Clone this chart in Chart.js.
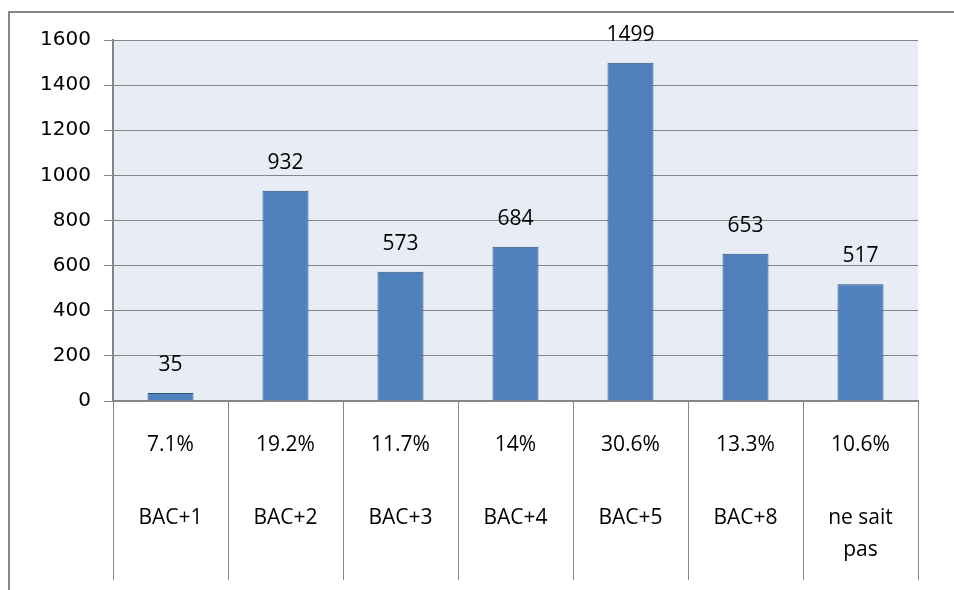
<!DOCTYPE html>
<html lang="fr">
<head>
    <meta charset="UTF-8">
    <title>BAC+ répartition</title>
    <script src="https://cdn.jsdelivr.net/npm/chart.js"></script>
    <style>
        html, body { margin: 0; padding: 0; background: #fff; }
        #wrap { width: 954px; height: 590px; position: relative; }
    </style>
</head>
<body>
<div id="wrap"><canvas id="chart" width="954" height="590"></canvas></div>
<script>
    // données
    const categories = ['BAC+1', 'BAC+2', 'BAC+3', 'BAC+4', 'BAC+5', 'BAC+8', ['ne sait', 'pas']];
    const effectifs = [35, 932, 573, 684, 1499, 653, 517];
    const pourcentages = ['7.1%', '19.2%', '11.7%', '14%', '30.6%', '13.3%', '10.6%'];
    const yTicks = [0, 200, 400, 600, 800, 1000, 1200, 1400, 1600];

    const GRIS = '#868686';
    const labelFont = '21px "Open Sans", Lato, sans-serif';
    Chart.defaults.font.family = '"DejaVu Sans", sans-serif';

    // cadre, fond de la zone de tracé, étiquettes et tableau sous l'axe
    const decor = {
        id: 'decor',
        beforeDraw(chart) {
            const { ctx, chartArea: a } = chart;
            ctx.save();
            ctx.strokeStyle = GRIS;
            ctx.lineWidth = 2;
            ctx.beginPath();
            ctx.moveTo(954, 12);
            ctx.lineTo(9, 12);
            ctx.lineTo(9, 590);
            ctx.stroke();
            ctx.fillStyle = '#E8ECF4';
            ctx.fillRect(a.left, a.top, a.right - a.left, a.bottom - a.top);
            ctx.restore();
        },
        afterDatasetsDraw(chart) {
            const { ctx, chartArea: a } = chart;
            const xs = chart.scales.x;
            const meta = chart.getDatasetMeta(0);
            ctx.save();
            ctx.fillStyle = '#000';
            ctx.font = labelFont;
            ctx.textAlign = 'center';
            ctx.textBaseline = 'middle';
            meta.data.forEach((bar, i) => {
                ctx.fillText(String(effectifs[i]), bar.x, bar.y - 28);
            });
            categories.forEach((c, i) => {
                const x = xs.getPixelForValue(i);
                ctx.fillText(pourcentages[i], x, a.bottom + 44);
                const lines = Array.isArray(c) ? c : [c];
                lines.forEach((l, j) => ctx.fillText(l, x, a.bottom + 117 + j * 32));
            });
            ctx.restore();
        }
    };

    new Chart(document.getElementById('chart'), {
        type: 'bar',
        data: {
            labels: categories,
            datasets: [{
                data: effectifs,
                backgroundColor: '#4F81BD',
                borderColor: '#2F5480',
                borderWidth: 1,
                categoryPercentage: 1,
                barPercentage: 0.4
            }]
        },
        options: {
            responsive: false,
            animation: false,
            layout: { padding: { top: 40, right: 36, left: 0, bottom: 0 } },
            plugins: { legend: { display: false }, tooltip: { enabled: false } },
            scales: {
                x: {
                    offset: true,
                    grid: {
                        offset: true,
                        drawOnChartArea: false,
                        drawTicks: true,
                        tickLength: 179,
                        color: GRIS,
                        lineWidth: 1
                    },
                    border: { color: GRIS, width: 2 },
                    ticks: { display: false },
                    afterFit(scale) { scale.height = 189; }
                },
                y: {
                    min: 0,
                    max: 1600,
                    afterBuildTicks(scale) { scale.ticks = yTicks.map(v => ({ value: v })); },
                    grid: { color: GRIS, lineWidth: 1, tickLength: 9 },
                    border: { color: GRIS, width: 2 },
                    ticks: {
                        color: '#000',
                        padding: 13,
                        font: { family: '"DejaVu Sans", sans-serif', size: 20 },
                        callback: v => String(v)
                    },
                    afterFit(scale) { scale.width = 113; }
                }
            }
        },
        plugins: [decor]
    });
</script>
</body>
</html>
